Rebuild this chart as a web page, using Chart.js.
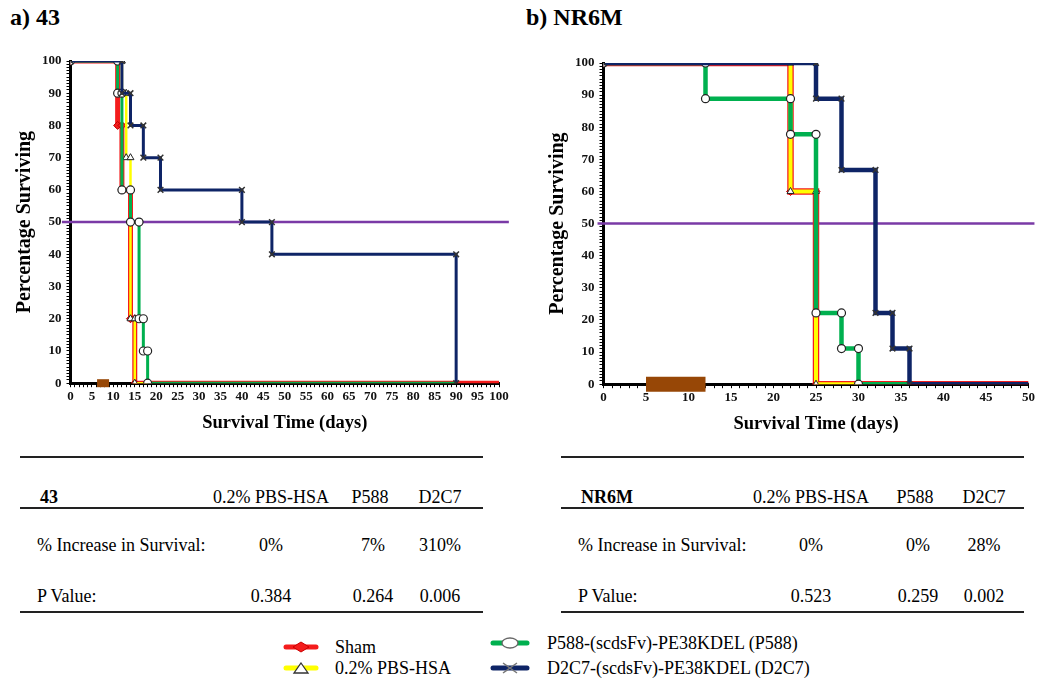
<!DOCTYPE html>
<html>
<head>
<meta charset="utf-8">
<script src="https://cdn.jsdelivr.net/npm/chart.js@4.4.1/dist/chart.umd.min.js"></script>
<style>
  body { margin: 0; background: #fff; font-family: "Liberation Serif", "Times New Roman", serif; color: #000; }
  #page { position: relative; width: 1037px; height: 679px; overflow: hidden; }
  .ttl { position: absolute; font-weight: bold; font-size: 24px; top: 4px; }
  .cv { position: absolute; }
  .rule { position: absolute; height: 2px; background: #222; }
  .cell { position: absolute; font-size: 18px; white-space: nowrap; transform: translate(-50%, -50%); }
  .lab { position: absolute; font-size: 18px; white-space: nowrap; transform: translateY(-50%); }
  .leg { position: absolute; }
</style>
</head>
<body>
<div id="page">
  <div class="ttl" style="left:10px">a) 43</div>
  <div class="ttl" style="left:526px">b) NR6M</div>
  <canvas id="chartA" class="cv" style="left:0px; top:40px" width="520" height="395"></canvas>
  <canvas id="chartB" class="cv" style="left:530px; top:40px" width="507" height="395"></canvas>
  <div id="tables"></div>
  <div id="legend"></div>
</div>
<script>
// ---- survival data, a) 43 (days, % surviving) ----
const aShamT = [0, 11, 11, 12, 12, 14, 14, 15, 15, 100];
const aShamS = [100, 100, 80, 80, 60, 60, 20, 20, 0, 0];
const aPbsT = [0, 12, 12, 13, 13, 14, 14, 15, 15, 18];
const aPbsS = [100, 100, 90, 90, 70, 70, 20, 20, 0, 0];
const aP588T = [0, 11, 11, 12, 12, 14, 14, 16, 16, 17, 17, 18, 18, 90];
const aP588S = [100, 100, 90, 90, 60, 60, 50, 50, 20, 20, 10, 10, 0, 0];
const aD2c7T = [0, 12, 12, 14, 14, 17, 17, 21, 21, 40, 40, 47, 47, 90, 90];
const aD2c7S = [100, 100, 90, 90, 80, 80, 70, 70, 60, 60, 50, 50, 40, 40, 0];
const aTreat = [6.2, 9];

// ---- survival data, b) NR6M ----
const bShamT = [0, 22, 22, 25, 25, 50];
const bShamS = [100, 100, 60, 60, 0, 0];
const bPbsT = [0, 22, 22, 25, 25, 30];
const bPbsS = [100, 100, 60, 60, 0, 0];
const bP588T = [0, 12, 12, 22, 22, 25, 25, 28, 28, 30, 30, 36];
const bP588S = [100, 100, 88.9, 88.9, 77.8, 77.8, 22.2, 22.2, 11.1, 11.1, 0, 0];
const bD2c7T = [0, 25, 25, 28, 28, 32, 32, 34, 34, 36, 36, 50];
const bD2c7S = [100, 100, 88.9, 88.9, 66.7, 66.7, 22.2, 22.2, 11.1, 11.1, 0, 0];
const bTreat = [5, 12];

const median = 50;

// ---- tables ----
const tableCols = ["0.2% PBS-HSA", "P588", "D2C7"];
const aIncrease = ["0%", "7%", "310%"];
const aPvalue = ["0.384", "0.264", "0.006"];
const bIncrease = ["0%", "0%", "28%"];
const bPvalue = ["0.523", "0.259", "0.002"];

const legendLabels = ["Sham", "0.2% PBS-HSA", "P588-(scdsFv)-PE38KDEL (P588)", "D2C7-(scdsFv)-PE38KDEL (D2C7)"];

const RED = "#f41c1c", YEL = "#ffff00", GRN = "#00b04f", NAVY = "#0e2466", PURP = "#7a3aa6", BROWN = "#974706";

function pts(t, s) {
  return t.map((x, i) => ({ x: x, y: s[i] }));
}

function makeSurvival(id, d, xmax, xExt, thick, pad) {
  const el = document.getElementById(id);
  // no marker on the point where a curve simply runs out to the end of the axis
  const mk = (last) => (ctx) => (ctx.raw && ctx.raw.x >= last ? 0 : 4);
  new Chart(el, {
    type: "line",
    data: {
      datasets: [
        { data: pts(d.d2c7T, d.d2c7S), borderColor: NAVY, borderWidth: thick, pointStyle: "crossRot",
          pointRadius: mk(xmax), pointBorderColor: "#333", pointBorderWidth: 1.5, pointBackgroundColor: "#fff" },
        { data: pts(d.p588T, d.p588S), borderColor: GRN, borderWidth: thick, pointStyle: "circle",
          pointRadius: mk(d.p588T[d.p588T.length - 1]), pointBorderColor: "#222", pointBorderWidth: 1.2, pointBackgroundColor: "#fff" },
        { data: pts(d.pbsT, d.pbsS), borderColor: YEL, borderWidth: thick - 0.5, pointStyle: "triangle",
          pointRadius: mk(d.pbsT[d.pbsT.length - 1]), pointBorderColor: "#222", pointBorderWidth: 1, pointBackgroundColor: "#fff" },
        { data: pts(d.shamT, d.shamS), borderColor: RED, borderWidth: thick + 2, pointStyle: "rectRot",
          pointRadius: mk(xmax), pointBorderColor: "#b00", pointBorderWidth: 1, pointBackgroundColor: RED },
        { data: [{ x: xExt[0], y: median }, { x: xExt[1], y: median }], borderColor: PURP, borderWidth: 2.5,
          pointRadius: 0, clip: false },
        { data: [{ x: d.treat[0], y: 0 }, { x: d.treat[1], y: 0 }], borderColor: BROWN, borderWidth: d.treatW,
          borderCapStyle: "butt", pointRadius: 0, clip: false }
      ]
    },
    options: {
      responsive: false,
      animation: false,
      layout: { padding: pad },
      plugins: { legend: { display: false }, tooltip: { enabled: false } },
      elements: { line: { tension: 0, borderJoinStyle: "miter" } },
      scales: {
        x: {
          type: "linear", min: 0, max: xmax,
          border: { color: "#000", width: 3 },
          grid: { drawOnChartArea: false, tickLength: 4, color: "#000", lineWidth: 1 },
          ticks: { stepSize: 1, autoSkip: false, maxRotation: 0, color: "#111", padding: 2,
            font: { family: "Liberation Serif", weight: "bold", size: 13 },
            callback: (v) => (v % 5 === 0 ? v : "") },
          title: { display: true, text: "Survival Time (days)", color: "#000", padding: { top: 5, bottom: 0 },
            font: { family: "Liberation Serif", weight: "bold", size: 18.5 } }
        },
        y: {
          min: 0, max: 100,
          border: { color: "#000", width: 3 },
          grid: { drawOnChartArea: false, tickLength: 4, color: "#000", lineWidth: 1 },
          ticks: { stepSize: 1, autoSkip: false, color: "#111", padding: 5,
            font: { family: "Liberation Serif", weight: "bold", size: 13 },
            callback: (v) => (v % 10 === 0 ? v : "") },
          title: { display: true, text: "Percentage Surviving", color: "#000", padding: { top: 0, bottom: 0 },
            font: { family: "Liberation Serif", weight: "bold", size: 20 } }
        }
      }
    }
  });
}

makeSurvival("chartA", {
  shamT: aShamT, shamS: aShamS, pbsT: aPbsT, pbsS: aPbsS, p588T: aP588T, p588S: aP588S,
  d2c7T: aD2c7T, d2c7S: aD2c7S, treat: aTreat, treatW: 8
}, 100, [-2, 102.3], 3, { left: 13, right: 21, top: 21, bottom: 1 });

makeSurvival("chartB", {
  shamT: bShamT, shamS: bShamS, pbsT: bPbsT, pbsS: bPbsS, p588T: bP588T, p588S: bP588S,
  d2c7T: bD2c7T, d2c7S: bD2c7S, treat: bTreat, treatW: 15
}, 50, [-0.7, 50.7], 4.5, { left: 16, right: 2, top: 23, bottom: 0 });

// ---- tables under the charts ----
function buildTable(x0, name, colX, inc, pv) {
  const host = document.getElementById("tables");
  let h = "";
  [457, 508, 612].forEach((y) => { h += `<div class="rule" style="left:${x0 + 20}px;top:${y - 1}px;width:463px"></div>`; });
  h += `<div class="lab" style="left:${x0 + 40}px;top:497px;font-weight:bold">${name}</div>`;
  h += `<div class="lab" style="left:${x0 + 37}px;top:545px">% Increase in Survival:</div>`;
  h += `<div class="lab" style="left:${x0 + 37}px;top:596px">P Value:</div>`;
  tableCols.forEach((c, i) => {
    h += `<div class="cell" style="left:${x0 + colX[i]}px;top:497px">${c}</div>`;
    h += `<div class="cell" style="left:${x0 + colX[i] + (i === 1 ? 3 : 0)}px;top:545px">${inc[i]}</div>`;
    h += `<div class="cell" style="left:${x0 + colX[i] + (i === 1 ? 3 : 0)}px;top:596px">${pv[i]}</div>`;
  });
  host.insertAdjacentHTML("beforeend", h);
}
buildTable(0, "43", [271, 370, 440], aIncrease, aPvalue);
buildTable(541, "NR6M", [270, 374, 443], bIncrease, bPvalue);

// ---- legend ----
function legendMark(kind, color) {
  let m = "";
  if (kind === "diamond") m = '<polygon points="18,1 26,6 18,11 10,6" fill="' + RED + '" stroke="#c00" stroke-width="1"/>';
  if (kind === "triangle") m = '<polygon points="18,1 25,11 11,11" fill="#fff" stroke="#333" stroke-width="1.3"/>';
  if (kind === "circle") m = '<ellipse cx="20" cy="6" rx="8" ry="5" fill="#fff" stroke="#666" stroke-width="1.3"/>';
  if (kind === "cross") m = '<path d="M13,1 L27,11 M13,11 L27,1" stroke="#777" stroke-width="1.5"/>';
  const w = kind === "circle" || kind === "cross" ? 40 : 36;
  return `<svg width="${w}" height="12" style="position:absolute;left:0;top:-6px">` +
    `<line x1="3" y1="6" x2="${w - 3}" y2="6" stroke="${color}" stroke-width="5" stroke-linecap="round"/>${m}</svg>`;
}
const legItems = [
  { x: 283, y: 647, tx: 335, kind: "diamond", color: RED },
  { x: 283, y: 668, tx: 335, kind: "triangle", color: YEL },
  { x: 490, y: 643, tx: 547, kind: "circle", color: GRN },
  { x: 490, y: 668, tx: 547, kind: "cross", color: NAVY }
];
const lg = document.getElementById("legend");
legItems.forEach((it, i) => {
  lg.insertAdjacentHTML("beforeend",
    `<div class="leg" style="left:${it.x}px;top:${it.y}px">${legendMark(it.kind, it.color)}</div>` +
    `<div class="lab" style="left:${it.tx}px;top:${it.y}px">${legendLabels[i]}</div>`);
});
</script>
</body>
</html>
